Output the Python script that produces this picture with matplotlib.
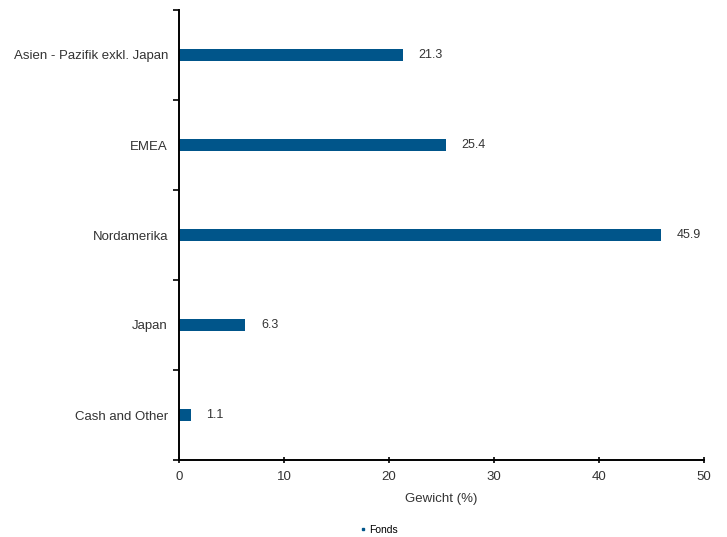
import numpy as np
import matplotlib.pyplot as plt

plt.rcParams['font.family'] = ['Liberation Sans', 'DejaVu Sans']

categories = ['Asien - Pazifik exkl. Japan', 'EMEA', 'Nordamerika', 'Japan', 'Cash and Other']
fonds = [21.3, 25.4, 45.9, 6.3, 1.1]
xticks = [0, 10, 20, 30, 40, 50]

bar_color = '#00558a'
text_color = '#333333'

fig = plt.figure(figsize=(7.27, 5.37), dpi=100)
ax = fig.add_axes([179 / 727, 1 - 460 / 537, (704 - 179) / 727, 450 / 537])

y = np.arange(len(categories))[::-1]
bars = ax.barh(y, fonds, height=0.13, color=bar_color, label='Fonds')

for yi, v in zip(y, fonds):
    ax.text(v + 1.5, yi, f'{v:.1f}', va='center', ha='left', fontsize=9, color=text_color)

ax.set_xlim(0, 50)
ax.set_ylim(-0.5, len(categories) - 0.5)
ax.set_xticks(xticks)
ax.set_xticklabels([str(t) for t in xticks], fontsize=9.5, color=text_color)
ax.set_yticks(y)
ax.set_yticklabels(categories, fontsize=9.5, color=text_color)
ax.set_yticks(np.arange(-0.5, len(categories), 1), minor=True)
ax.tick_params(axis='y', which='major', length=0, pad=8)
ax.tick_params(axis='y', which='minor', length=4, width=1.2, direction='out')
ax.tick_params(axis='x', length=4, width=1.2, direction='inout', pad=6)

for s in ['top', 'right']:
    ax.spines[s].set_visible(False)
for s in ['left', 'bottom']:
    ax.spines[s].set_linewidth(1.4)
    ax.spines[s].set_color('black')

ax.set_xlabel('Gewicht (%)', fontsize=9.5, color=text_color, labelpad=7)

handle = plt.Line2D([], [], marker='s', linestyle='none', color=bar_color, markersize=2)
fig.legend([handle], ['Fonds'], loc='center', bbox_to_anchor=(378 / 727, 1 - 530 / 537),
           frameon=False, handletextpad=0.1, handlelength=1, prop={'size': 7.5})

fig.savefig('out.png', dpi=100)
